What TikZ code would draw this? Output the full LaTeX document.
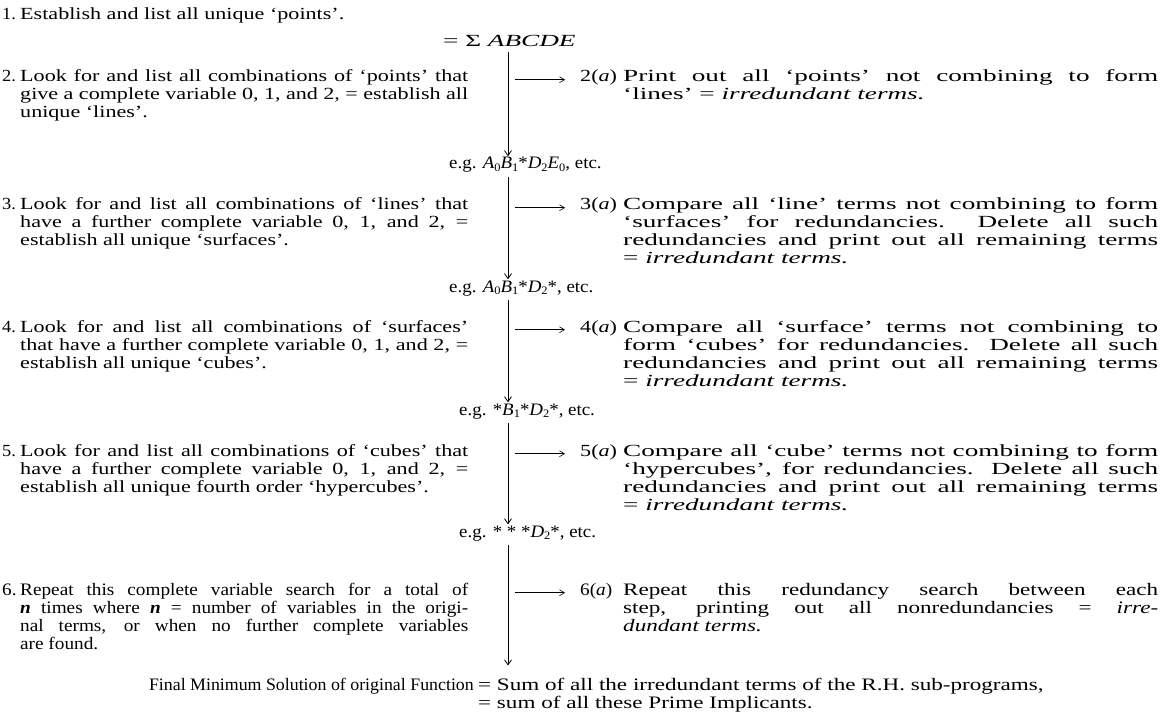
\documentclass[tikz,border=0pt]{standalone}
\usepackage{fontspec}
\setmainfont{Liberation Serif}[FakeStretch=1.3,Ligatures=TeX]
\newfontfamily\rfont{Liberation Serif}[FakeStretch=1.6,Ligatures=TeX]
\newfontfamily\efont{Liberation Serif}[FakeStretch=1.08,Ligatures=TeX]
\newfontfamily\condf{Liberation Serif}[FakeStretch=1.1,Ligatures=TeX]
\newfontfamily\condl{Liberation Serif}[FakeStretch=1.02,Ligatures=TeX]
\newfontfamily\condr{Liberation Serif}[FakeStretch=1.32,Ligatures=TeX]
\usetikzlibrary{arrows.meta}
\newcommand\sbx[1]{\raisebox{-0.28ex}{\fontsize{11.5}{11.5}\selectfont #1}}
\newcommand\irr{\textit{irredundant terms.}}
\begin{document}
\begin{tikzpicture}[x=1pt,y=-1pt,
  txt/.style={inner sep=0pt,anchor=base west,font=\fontsize{17}{18}\selectfont},
  lbl/.style={txt,font=\efont\fontsize{17}{18}\selectfont},
  rlbl/.style={txt},
  lbody/.style={txt,text width=448pt,align=justify},
  rbody/.style={txt,text width=535pt,align=justify,font=\rfont\fontsize{17}{18}\selectfont},
  egtxt/.style={txt,font=\efont\fontsize{17.5}{18}\selectfont},
  cbody/.style={lbody,font=\condf\fontsize{17.5}{18}\selectfont},
  crbody/.style={rbody,font=\condr\fontsize{17.5}{18}\selectfont},
  clbl/.style={txt,font=\condf\fontsize{17.5}{18}\selectfont},
  flow/.style={line width=0.8pt,-{Straight Barb[length=5pt,width=7pt]}},
  harr/.style={line width=0.6pt,-{Straight Barb[length=5pt,width=6pt]}}]
\useasboundingbox (0,0) rectangle (1161,727);
\coordinate (vx) at (508,0);
% left column
\node[lbl] (l1) at (2,20) {1.};
\node[lbody] (b1) at (20,20) {Establish and list all unique `points'.};
\node[txt,font=\rfont\fontsize{17}{18}\selectfont] (sig) at (443,47) {= Σ \textit{ABCDE}};
\node[lbl] (l2) at (2,82) {2.};
\node[lbody] (b2) at (20,82) {Look for and list all combinations of `points' that\linebreak give a complete variable 0, 1, and 2, = establish all\linebreak unique `lines'.};
\node[egtxt] (eg1) at (449,169) {e.g. \textit{A}\sbx{0}\textit{B}\sbx{1}*\textit{D}\sbx{2}\textit{E}\sbx{0}, etc.};
\node[lbl] (l3) at (2,210) {3.};
\node[lbody] (b3) at (20,210) {Look for and list all combinations of `lines' that\linebreak have a further complete variable 0, 1, and 2, =\linebreak establish all unique `surfaces'.};
\node[egtxt] (eg2) at (449,292) {e.g. \textit{A}\sbx{0}\textit{B}\sbx{1}*\textit{D}\sbx{2}*, etc.};
\node[lbl] (l4) at (2,332) {4.};
\node[lbody] (b4) at (20,332) {Look for and list all combinations of `surfaces'\linebreak that have a further complete variable 0, 1, and 2, =\linebreak establish all unique `cubes'.};
\node[egtxt] (eg3) at (459,415) {e.g. *\textit{B}\sbx{1}*\textit{D}\sbx{2}*, etc.};
\node[lbl] (l5) at (2,456) {5.};
\node[lbody] (b5) at (20,456) {Look for and list all combinations of `cubes' that\linebreak have a further complete variable 0, 1, and 2, =\linebreak establish all unique fourth order `hypercubes'.};
\node[egtxt] (eg4) at (459,537) {e.g. * * *\textit{D}\sbx{2}*, etc.};
\node[clbl] (l6) at (2,595) {6.};
\node[cbody] (b6) at (20,595) {Repeat this complete variable search for a total of\linebreak \textbf{\textit{n}} times where \textbf{\textit{n}} = number of variables in the origi-\linebreak nal terms, or when no further complete variables\linebreak are found.};
% right column
\node[rlbl] (r2) at (580,82) {2(\textit{a})};
\node[rbody] (c2) at (623,82) {Print out all `points' not combining to form\linebreak `lines' = \irr};
\node[rlbl] (r3) at (580,210) {3(\textit{a})};
\node[rbody] (c3) at (623,210) {Compare all `line' terms not combining to form\linebreak `surfaces' for redundancies.\ \ Delete all such\linebreak redundancies and print out all remaining terms\linebreak = \irr};
\node[rlbl] (r4) at (580,332) {4(\textit{a})};
\node[rbody] (c4) at (623,332) {Compare all `surface' terms not combining to\linebreak form `cubes' for redundancies. Delete all such\linebreak redundancies and print out all remaining terms\linebreak = \irr};
\node[rlbl] (r5) at (580,456) {5(\textit{a})};
\node[rbody] (c5) at (623,456) {Compare all `cube' terms not combining to form\linebreak `hypercubes', for redundancies. Delete all such\linebreak redundancies and print out all remaining terms\linebreak = \irr};
\node[clbl] (r6) at (580,595) {6(\textit{a})};
\node[crbody] (c6) at (623,595) {Repeat this redundancy search between each\linebreak step, printing out all nonredundancies = \textit{irre-}\linebreak \textit{dundant terms.}};
% final
\node[txt,anchor=base east,font=\condl\fontsize{17.5}{18}\selectfont] (f0) at (474,690) {Final Minimum Solution of original Function};
\node[txt,font=\condr\fontsize{17.5}{18}\selectfont] (f1) at (478,690) {= Sum of all the irredundant terms of the R.H. sub-programs,};
\node[txt,font=\condr\fontsize{17.5}{18}\selectfont] (f2) at (478,708) {= sum of all these Prime Implicants.};
% vertical flow
\draw[flow] (vx |- sig.south) ++(0,5) -- ([yshift=1pt]vx |- eg1.north);
\draw[flow] ([yshift=-4pt]vx |- eg1.south) -- ([yshift=1pt]vx |- eg2.north);
\draw[flow] ([yshift=-4pt]vx |- eg2.south) -- ([yshift=1pt]vx |- eg3.north);
\draw[flow] ([yshift=-4pt]vx |- eg3.south) -- ([yshift=1pt]vx |- eg4.north);
\draw[flow] ([yshift=-4pt]vx |- eg4.south) -- ([yshift=12pt]vx |- f1.north);
% horizontal arrows
\foreach \r in {r2,r3,r4,r5,r6}
  \draw[harr] ([xshift=7pt]vx |- \r.mid) -- ([xshift=-15pt]\r.mid west);
\end{tikzpicture}
\end{document}
